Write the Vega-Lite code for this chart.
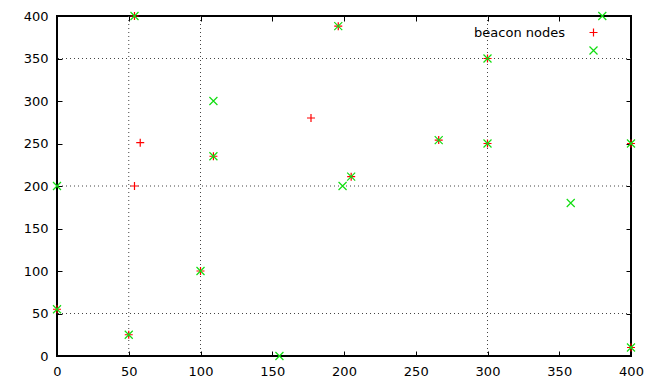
{
  "$schema": "https://vega.github.io/schema/vega-lite/v6.json",
  "width": 574,
  "height": 340,
  "autosize": {"type": "none"},
  "padding": {"left": 57, "top": 16, "right": 26, "bottom": 27},
  "background": "white",
  "config": {
    "view": {"stroke": "black", "strokeWidth": 2},
    "font": "DejaVu Sans",
    "axis": {
      "domain": false,
      "grid": false,
      "labelFlush": false,
      "tickColor": "black",
      "tickSize": -5,
      "tickWidth": 1,
      "labelFont": "DejaVu Sans",
      "labelFontSize": 13,
      "labelColor": "black",
      "title": null
    }
  },
  "datasets": {
    "gridx": [{"v": 50}, {"v": 100}, {"v": 300}],
    "gridy": [{"v": 50}, {"v": 200}, {"v": 350}],
    "nodes": [
      {"x": 54, "y": 400, "series": "beacon nodes"},
      {"x": 58, "y": 251, "series": "beacon nodes"},
      {"x": 54, "y": 200, "series": "beacon nodes"},
      {"x": 109, "y": 235, "series": "beacon nodes"},
      {"x": 177, "y": 280, "series": "beacon nodes"},
      {"x": 196, "y": 388, "series": "beacon nodes"},
      {"x": 0, "y": 55, "series": "beacon nodes"},
      {"x": 50, "y": 25, "series": "beacon nodes"},
      {"x": 100, "y": 100, "series": "beacon nodes"},
      {"x": 205, "y": 211, "series": "beacon nodes"},
      {"x": 266, "y": 254, "series": "beacon nodes"},
      {"x": 300, "y": 350, "series": "beacon nodes"},
      {"x": 300, "y": 250, "series": "beacon nodes"},
      {"x": 400, "y": 250, "series": "beacon nodes"},
      {"x": 400, "y": 10, "series": "beacon nodes"},
      {"x": 54, "y": 400, "series": "other"},
      {"x": 109, "y": 300, "series": "other"},
      {"x": 109, "y": 235, "series": "other"},
      {"x": 196, "y": 388, "series": "other"},
      {"x": 0, "y": 200, "series": "other"},
      {"x": 0, "y": 55, "series": "other"},
      {"x": 50, "y": 25, "series": "other"},
      {"x": 100, "y": 100, "series": "other"},
      {"x": 155, "y": 0, "series": "other"},
      {"x": 199, "y": 200, "series": "other"},
      {"x": 205, "y": 211, "series": "other"},
      {"x": 266, "y": 254, "series": "other"},
      {"x": 300, "y": 350, "series": "other"},
      {"x": 300, "y": 250, "series": "other"},
      {"x": 358, "y": 180, "series": "other"},
      {"x": 380, "y": 400, "series": "other"},
      {"x": 400, "y": 250, "series": "other"},
      {"x": 400, "y": 10, "series": "other"}
    ]
  },
  "resolve": {"axis": {"x": "independent", "y": "independent"}},
  "layer": [
    {
      "data": {"name": "gridx"},
      "mark": {"type": "rule", "color": "#444", "strokeDash": [1, 3], "strokeWidth": 1},
      "encoding": {
        "x": {"field": "v", "type": "quantitative", "scale": {"domain": [0, 400], "nice": false},
              "axis": {"orient": "top", "labels": false, "values": [0, 50, 100, 150, 200, 250, 300, 350, 400]}}
      }
    },
    {
      "data": {"name": "gridy"},
      "mark": {"type": "rule", "color": "#444", "strokeDash": [1, 3], "strokeWidth": 1},
      "encoding": {
        "y": {"field": "v", "type": "quantitative", "scale": {"domain": [0, 400], "nice": false},
              "axis": {"orient": "right", "labels": false, "values": [0, 50, 100, 150, 200, 250, 300, 350, 400]}}
      }
    },
    {
      "data": {"name": "nodes"},
      "mark": {"type": "point", "filled": false, "strokeWidth": 1.2, "size": 64, "opacity": 1, "clip": false},
      "encoding": {
        "x": {"field": "x", "type": "quantitative", "scale": {"domain": [0, 400], "nice": false},
              "axis": {"orient": "bottom", "values": [0, 50, 100, 150, 200, 250, 300, 350, 400], "labelPadding": 14}},
        "y": {"field": "y", "type": "quantitative", "scale": {"domain": [0, 400], "nice": false},
              "axis": {"orient": "left", "values": [0, 50, 100, 150, 200, 250, 300, 350, 400], "labelPadding": 14}},
        "color": {"field": "series", "type": "nominal",
                  "scale": {"domain": ["beacon nodes", "other"], "range": ["#ff0000", "#11dd11"]},
                  "legend": {"title": null, "orient": "none", "legendX": 530, "legendY": 10, "padding": 0,
                             "labelAlign": "right", "labelOffset": -35, "labelFontSize": 13, "labelFont": "DejaVu Sans",
                             "labelColor": "black", "symbolStrokeWidth": 1.2, "symbolSize": 64, "rowPadding": 4,
                             "labelExpr": "datum.label == 'other' ? '' : datum.label"}},
        "shape": {"field": "series", "type": "nominal",
                  "scale": {"domain": ["beacon nodes", "other"], "range": ["M-1,0L1,0M0,-1L0,1", "M-1,-1L1,1M-1,1L1,-1"]},
                  "legend": {"title": null, "orient": "none", "legendX": 530, "legendY": 10, "padding": 0,
                             "labelAlign": "right", "labelOffset": -35, "labelFontSize": 13, "labelFont": "DejaVu Sans",
                             "labelColor": "black", "symbolStrokeWidth": 1.2, "symbolSize": 64, "rowPadding": 4,
                             "labelExpr": "datum.label == 'other' ? '' : datum.label"}}
      }
    }
  ]
}
